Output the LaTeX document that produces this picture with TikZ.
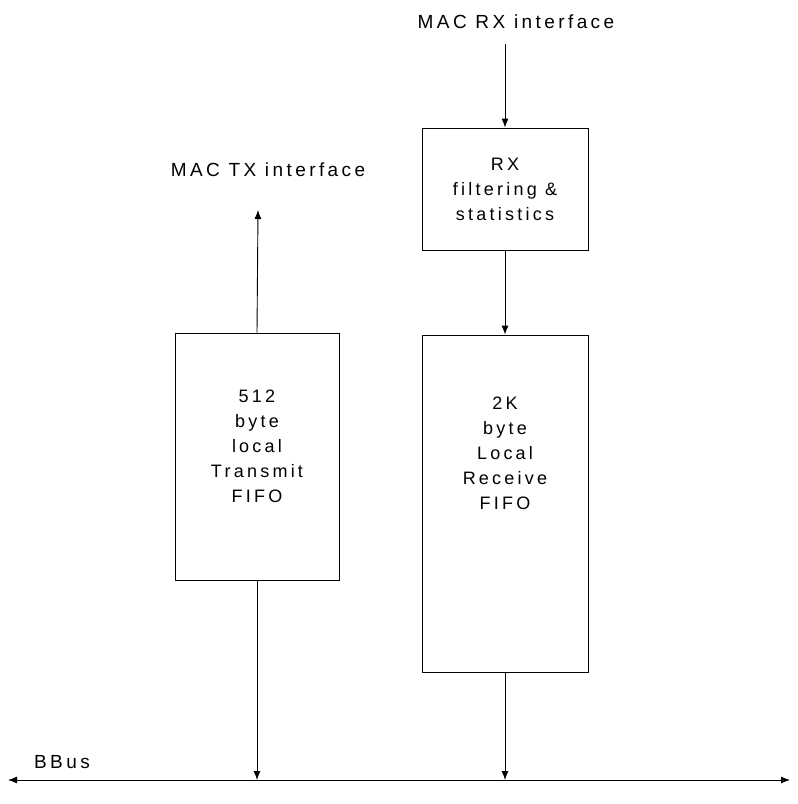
\documentclass[tikz,border=0pt]{standalone}
\usepackage{fontspec}
\usetikzlibrary{arrows.meta}
\setmainfont{Liberation Sans}[LetterSpace=18]
\begin{document}
\begin{tikzpicture}[x=1pt,y=-1pt,
  blk/.style={draw,line width=0.9pt},
  txt/.style={align=center,font=\fontsize{18}{25}\selectfont},
  lbl/.style={font=\fontsize{19}{22}\selectfont},
  conn/.style={line width=0.9pt,-{Latex[length=9pt,width=7pt]}}]
\useasboundingbox (0,0) rectangle (798,804);
\node[lbl] (rxif) at (516,22) {MAC RX interface};
\node[lbl] (txif) at (268,170) {MAC TX interface};
\node[blk,txt,minimum width=166,minimum height=122] (rx) at (505,189) {RX\\filtering \&\\statistics};
\node[blk,minimum width=166,minimum height=337] (rfifo) at (505,503.5) {};
\node[txt] (rlab) at (505,453) {2K\\byte\\Local\\Receive\\FIFO};
\node[blk,minimum width=164,minimum height=247] (tfifo) at (257,456.5) {};
\node[txt] (tlab) at (257,446) {512\\byte\\local\\Transmit\\FIFO};
\node[lbl] (bbus) at (62,762) {BBus};
\coordinate (bl) at (8,780);
\coordinate (br) at (790,780);
\coordinate (rxtop) at (505,44);
\coordinate (txtop) at (258,210);
\draw[line width=0.9pt,{Latex[length=9pt,width=7pt]}-{Latex[length=9pt,width=7pt]}] (bl) -- (br);
\draw[conn] (rxtop) -- (rx.north);
\draw[conn] (rx.south) -- (rfifo.north);
\draw[conn] (rfifo.south) -- (rfifo.south |- bl);
\draw[conn] (tfifo.north) -- (txtop);
\draw[conn] (tfifo.south) -- (tfifo.south |- bl);
\end{tikzpicture}
\end{document}
